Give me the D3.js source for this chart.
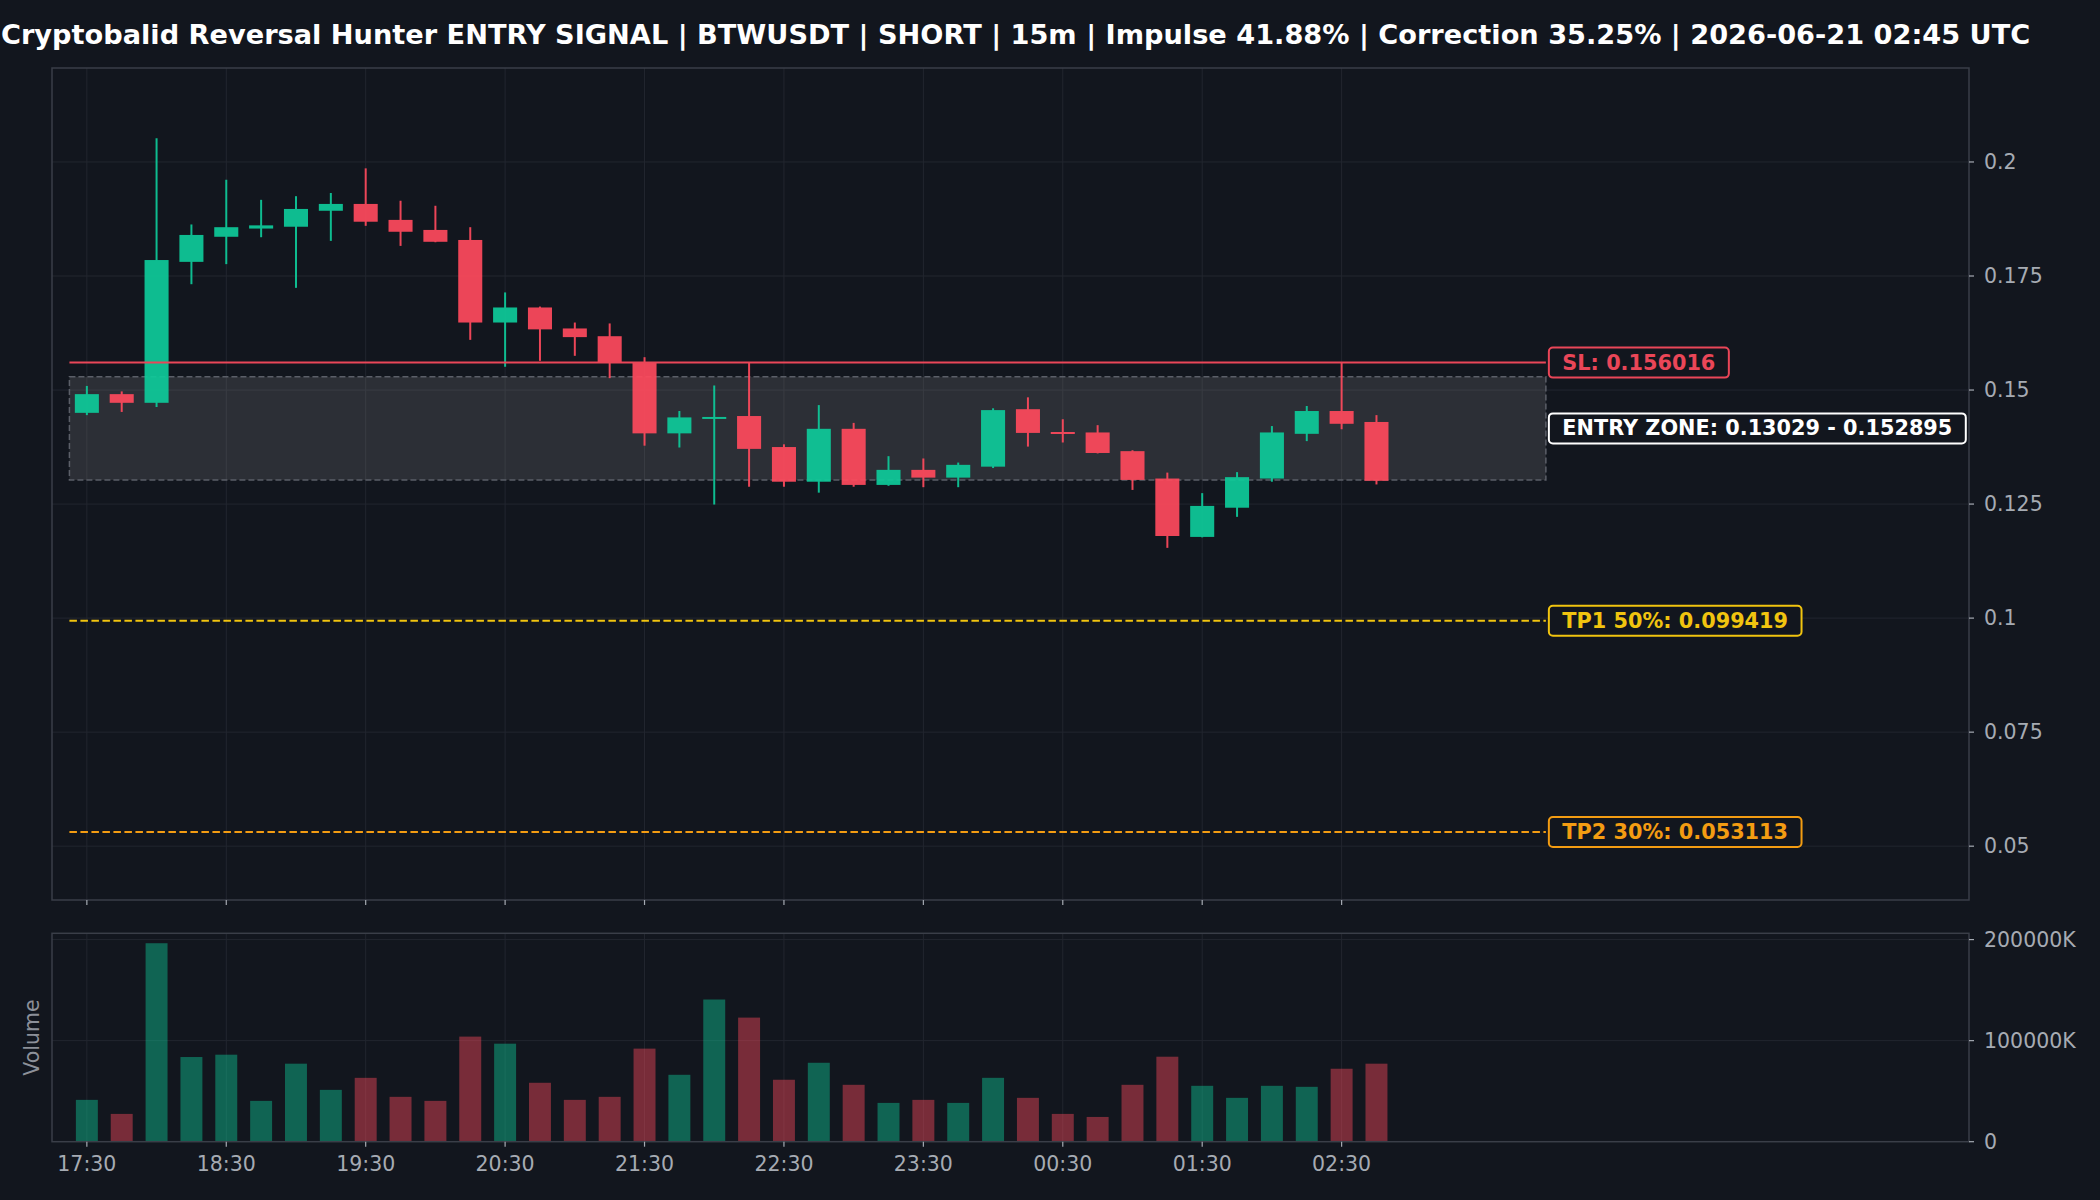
<!DOCTYPE html>
<html>
<head>
<meta charset="utf-8">
<script src="https://cdn.jsdelivr.net/npm/d3@7/dist/d3.min.js"></script>
<style>
html,body{margin:0;padding:0;background:#12161e;}
svg{display:block;}
text{font-family:"DejaVu Sans",sans-serif;}
</style>
</head>
<body>
<svg id="chart" width="2100" height="1200"></svg>
<script>
// ---------- DATA ----------
const times = ["17:30","17:45","18:00","18:15","18:30","18:45","19:00","19:15","19:30","19:45",
  "20:00","20:15","20:30","20:45","21:00","21:15","21:30","21:45","22:00","22:15",
  "22:30","22:45","23:00","23:15","23:30","23:45","00:00","00:15","00:30","00:45",
  "01:00","01:15","01:30","01:45","02:00","02:15","02:30","02:45"];
const opens  = [0.1450,0.1491,0.1472,0.1781,0.1836,0.1854,0.1858,0.1893,0.1908,0.1873,
  0.1851,0.1829,0.1648,0.1681,0.1635,0.1618,0.1561,0.1405,0.1440,0.1443,
  0.1375,0.1299,0.1415,0.1292,0.1325,0.1308,0.1332,0.1458,0.1408,0.1407,
  0.1366,0.1306,0.1178,0.1242,0.1306,0.1404,0.1454,0.1430];
const highs  = [0.1509,0.1497,0.2052,0.1863,0.1961,0.1917,0.1925,0.1932,0.1986,0.1915,
  0.1904,0.1857,0.1714,0.1683,0.1648,0.1646,0.1572,0.1454,0.1510,0.1560,
  0.1381,0.1467,0.1428,0.1355,0.1350,0.1341,0.1460,0.1484,0.1436,0.1423,
  0.1368,0.1319,0.1274,0.1320,0.1421,0.1465,0.1560,0.1445];
const lows   = [0.1445,0.1452,0.1463,0.1732,0.1776,0.1835,0.1724,0.1827,0.1860,0.1816,
  0.1824,0.1610,0.1551,0.1564,0.1575,0.1526,0.1378,0.1374,0.1249,0.1288,
  0.1288,0.1275,0.1288,0.1290,0.1287,0.1287,0.1329,0.1376,0.1385,0.1361,
  0.1281,0.1154,0.1177,0.1222,0.1299,0.1388,0.1414,0.1293];
const closes = [0.1491,0.1472,0.1785,0.1840,0.1857,0.1861,0.1897,0.1908,0.1869,0.1847,
  0.1825,0.1648,0.1681,0.1633,0.1616,0.1561,0.1405,0.1440,0.1441,0.1371,
  0.1299,0.1415,0.1292,0.1325,0.1308,0.1336,0.1456,0.1406,0.1406,0.1362,
  0.1303,0.1180,0.1246,0.1309,0.1407,0.1454,0.1426,0.1301];
// volume in thousands (K)
const volumes = [41400,27500,196400,83800,86100,40400,77200,51300,63200,44400,
  40400,104000,97000,58300,41400,44400,92100,66200,140700,122800,
  61300,78100,56300,38400,41400,38400,63200,43400,27500,24500,
  56300,84100,55300,43400,55300,54300,72200,77200];

const xTickLabels = ["17:30","18:30","19:30","20:30","21:30","22:30","23:30","00:30","01:30","02:30"];
const priceTicks = [0.05,0.075,0.1,0.125,0.15,0.175,0.2];
const volumeTicks = [0,100000,200000];

const titleText = "Cryptobalid Reversal Hunter ENTRY SIGNAL | BTWUSDT | SHORT | 15m | Impulse 41.88% | Correction 35.25% | 2026-06-21 02:45 UTC";
const entryLow = 0.13029, entryHigh = 0.152895;
const slPrice = 0.156016;
const tp1Price = 0.099419, tp2Price = 0.053113;
const priceDomain = [0.0382, 0.2206];
const xDomain = [-1, 54];
const zoneSpan = [-0.5, 41.86];

// ---------- STYLE ----------
const BG = "#12161e";
const GREEN = "#0ecb9a", RED = "#ff4a5d";
const GRID = "#22262f", SPINE = "#3a3e48", TICKTXT = "#a6abb3";
const SLC = "#ea4658", TP1C = "#f1c40f", TP2C = "#f39c12";

const svg = d3.select("#chart");
svg.append("rect").attr("width",2100).attr("height",1200).attr("fill",BG);

const L = 52, R = 1969, T = 68, B = 900;
const VT = 933.3, VB = 1141.7;

const x = d3.scaleLinear().domain(xDomain).range([L, R]);
const y = d3.scaleLinear().domain(priceDomain).range([B, T]);
const yv = d3.scaleLinear().domain([0, d3.max(volumes)*1.05]).range([VB, VT]);
const step = x(1) - x(0);

const tickIdx = xTickLabels.map(lbl => times.indexOf(lbl));

// ---------- GRID ----------
const gMain = svg.append("g");
gMain.selectAll(".hg").data(priceTicks).join("line")
  .attr("x1",L).attr("x2",R).attr("y1",d=>y(d)).attr("y2",d=>y(d))
  .attr("stroke",GRID).attr("stroke-width",1);
gMain.selectAll(".vg").data(tickIdx).join("line")
  .attr("x1",d=>x(d)).attr("x2",d=>x(d)).attr("y1",T).attr("y2",B)
  .attr("stroke",GRID).attr("stroke-width",1);

const gVol = svg.append("g");
gVol.selectAll(".hg").data(volumeTicks.slice(1)).join("line")
  .attr("x1",L).attr("x2",R).attr("y1",d=>yv(d)).attr("y2",d=>yv(d))
  .attr("stroke",GRID).attr("stroke-width",1);
gVol.selectAll(".vg").data(tickIdx).join("line")
  .attr("x1",d=>x(d)).attr("x2",d=>x(d)).attr("y1",VT).attr("y2",VB)
  .attr("stroke",GRID).attr("stroke-width",1);

// ---------- ENTRY ZONE ----------
svg.append("rect")
  .attr("x", x(zoneSpan[0])).attr("width", x(zoneSpan[1]) - x(zoneSpan[0]))
  .attr("y", y(entryHigh)).attr("height", y(entryLow) - y(entryHigh))
  .attr("fill","rgb(136,136,136)").attr("fill-opacity",0.23)
  .attr("stroke","#5b5f68").attr("stroke-width",1.5).attr("stroke-dasharray","6,3");

// TP lines
[[tp1Price,TP1C],[tp2Price,TP2C]].forEach(([p,c])=>{
  svg.append("line").attr("x1",x(zoneSpan[0])).attr("x2",x(zoneSpan[1]))
    .attr("y1",y(p)).attr("y2",y(p)).attr("stroke",c).attr("stroke-width",2)
    .attr("stroke-dasharray","7.5,3.5");
});

// ---------- CANDLES ----------
const candles = times.map((t,i)=>({i, o:opens[i], h:highs[i], l:lows[i], c:closes[i]}));
const gC = svg.append("g").attr("opacity",0.92);
const bodyW = step*0.69;
gC.selectAll(".wick").data(candles).join("line")
  .attr("x1",d=>x(d.i)).attr("x2",d=>x(d.i))
  .attr("y1",d=>y(d.h)).attr("y2",d=>y(d.l))
  .attr("stroke",d=>d.c>=d.o?GREEN:RED).attr("stroke-width",2);
gC.selectAll(".body").data(candles).join("rect")
  .attr("x",d=>x(d.i)-bodyW/2).attr("width",bodyW)
  .attr("y",d=>y(Math.max(d.o,d.c)))
  .attr("height",d=>Math.max(2, Math.abs(y(d.o)-y(d.c))))
  .attr("fill",d=>d.c>=d.o?GREEN:RED);

// SL line
svg.append("line").attr("x1",x(zoneSpan[0])).attr("x2",x(zoneSpan[1]))
  .attr("y1",y(slPrice)).attr("y2",y(slPrice)).attr("stroke",SLC).attr("stroke-width",2);

// ---------- VOLUME ----------
const volW = step*0.63;
svg.append("g").selectAll("rect").data(candles).join("rect")
  .attr("x",d=>x(d.i)-volW/2).attr("width",volW)
  .attr("y",d=>yv(volumes[d.i])).attr("height",d=>VB-yv(volumes[d.i]))
  .attr("fill",d=>d.c>=d.o?GREEN:RED).attr("fill-opacity",0.43);

// ---------- SPINES ----------
[[T,B],[VT,VB]].forEach(([t,b])=>{
  svg.append("rect").attr("x",L).attr("y",t).attr("width",R-L).attr("height",b-t)
    .attr("fill","none").attr("stroke",SPINE).attr("stroke-width",1.5);
});

// ---------- AXES ----------
const tickFont = "20.5px";
const ay = svg.append("g");
ay.selectAll("line").data(priceTicks).join("line")
  .attr("x1",R).attr("x2",R+5).attr("y1",d=>y(d)).attr("y2",d=>y(d))
  .attr("stroke",TICKTXT).attr("stroke-width",1.2);
ay.selectAll("text").data(priceTicks).join("text")
  .attr("x",R+15).attr("y",d=>y(d)).attr("dominant-baseline","central")
  .attr("fill",TICKTXT).style("font-size",tickFont)
  .text(d=>d3.format("")(d));
svg.append("g").selectAll("line").data(tickIdx).join("line")
  .attr("x1",d=>x(d)).attr("x2",d=>x(d)).attr("y1",B).attr("y2",B+5)
  .attr("stroke",TICKTXT).attr("stroke-width",1.2);

const av = svg.append("g");
av.selectAll("line").data(volumeTicks).join("line")
  .attr("x1",R).attr("x2",R+5).attr("y1",d=>yv(d)).attr("y2",d=>yv(d))
  .attr("stroke",TICKTXT).attr("stroke-width",1.2);
av.selectAll("text").data(volumeTicks).join("text")
  .attr("x",R+15).attr("y",d=>yv(d)).attr("dominant-baseline","central")
  .attr("fill",TICKTXT).style("font-size",tickFont)
  .text(d=>d===0?"0":d+"K");
const ax = svg.append("g");
ax.selectAll("line").data(tickIdx).join("line")
  .attr("x1",d=>x(d)).attr("x2",d=>x(d)).attr("y1",VB).attr("y2",VB+5)
  .attr("stroke",TICKTXT).attr("stroke-width",1.2);
ax.selectAll("text").data(xTickLabels).join("text")
  .attr("x",(d,i)=>x(tickIdx[i])).attr("y",1164).attr("text-anchor","middle")
  .attr("dominant-baseline","central")
  .attr("fill",TICKTXT).style("font-size",tickFont).text(d=>d);

svg.append("text").attr("transform",`translate(32,${(VT+VB)/2}) rotate(-90)`)
  .attr("text-anchor","middle").attr("dominant-baseline","central")
  .attr("fill","#8c9099").style("font-size",tickFont).text("Volume");

// ---------- LABEL BOXES ----------
function labelBox(price, txt, color){
  const g = svg.append("g");
  const bx = x(zoneSpan[1]) + 3, cy = y(price);
  const t = g.append("text").attr("x",bx+13.5).attr("y",cy)
    .attr("dominant-baseline","central").attr("fill",color)
    .style("font-size","20.8px").style("font-weight","bold").text(txt);
  const w = t.node().getComputedTextLength();
  g.insert("rect","text").attr("x",bx).attr("y",cy-15).attr("width",w+27).attr("height",30)
    .attr("rx",4).attr("fill",BG).attr("stroke",color).attr("stroke-width",2);
}
labelBox(slPrice, "SL: " + slPrice, SLC);
labelBox((entryLow+entryHigh)/2, "ENTRY ZONE: " + entryLow + " - " + entryHigh, "#ffffff");
labelBox(tp1Price, "TP1 50%: " + tp1Price, TP1C);
labelBox(tp2Price, "TP2 30%: " + tp2Price, TP2C);

// ---------- TITLE ----------
const title = svg.append("text").attr("y",34)
  .attr("dominant-baseline","central").attr("fill","#ffffff")
  .style("font-size","27.2px").style("font-weight","bold").text(titleText);
const tw = title.node().getComputedTextLength();
title.attr("x", Math.max(1, (L+R)/2 - tw/2));
</script>
</body>
</html>
